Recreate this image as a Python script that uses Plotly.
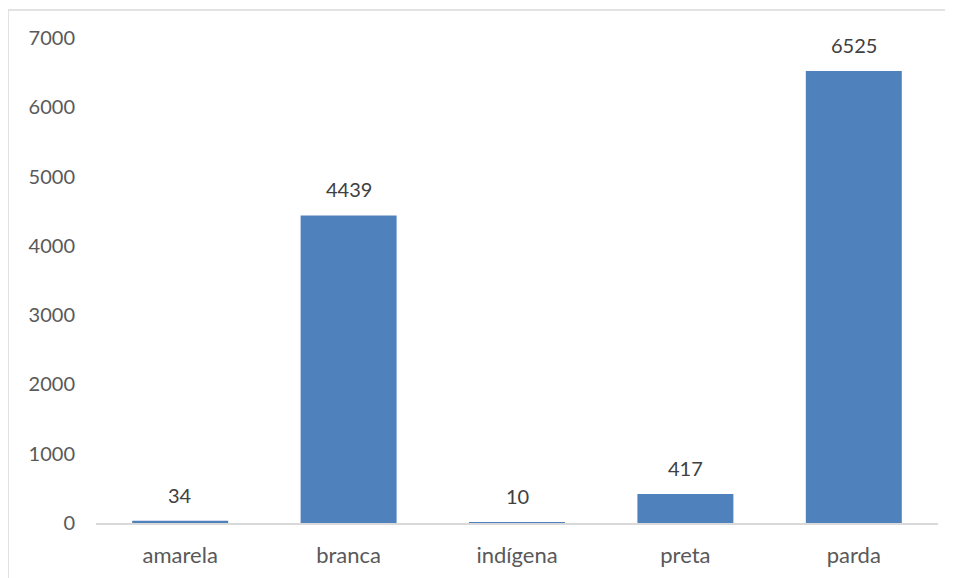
import plotly.graph_objects as go

categories = ["amarela", "branca", "indígena", "preta", "parda"]
values = [34, 4439, 10, 417, 6525]
y_ticks = [0, 1000, 2000, 3000, 4000, 5000, 6000, 7000]

# page offset: browser body margin of 8px
OFF = 8
W, H = 953, 578
L, T = 96 - OFF, 38 - OFF
R = W - (938 - OFF)
B = H - (523 - OFF)
plot_w = W - L - R
plot_h = H - T - B

FONT = "Lato"

fig = go.Figure()
fig.add_trace(go.Bar(
    x=categories, y=values,
    marker=dict(color="#4F81BD", line=dict(width=0)),
    hoverinfo="x+y",
))

for c, v in zip(categories, values):
    fig.add_annotation(
        x=c, y=v, text=str(v), showarrow=False,
        yanchor="bottom", yshift=12,
        font=dict(family=FONT, size=20, color="#404040"),
    )

# outer chart border (light gray)
fig.add_shape(
    type="rect", xref="paper", yref="paper",
    x0=(8 - OFF - L) / plot_w, x1=1.3,
    y0=-0.4, y1=(H - B - (10 - OFF)) / plot_h,
    line=dict(color="#D9D9D9", width=1.5),
    fillcolor="rgba(0,0,0,0)", layer="below",
)

fig.update_layout(
    width=W, height=H,
    margin=dict(l=L, r=R, t=T, b=B, pad=0),
    paper_bgcolor="white", plot_bgcolor="white",
    bargap=0.43, showlegend=False,
    font=dict(family=FONT, size=20, color="#595959"),
    xaxis=dict(
        showline=True, linecolor="#D9D9D9", linewidth=1.5,
        ticks="", showgrid=False, zeroline=False,
        tickfont=dict(family=FONT, size=22, color="#595959"),
        ticklabelstandoff=12,
    ),
    yaxis=dict(
        range=[0, 7000], tickvals=y_ticks, ticktext=[str(t) for t in y_ticks],
        showgrid=False, zeroline=False, showline=False, ticks="",
        tickfont=dict(family=FONT, size=20, color="#595959"),
        ticklabelstandoff=20,
    ),
)

fig.write_html("out.html")
